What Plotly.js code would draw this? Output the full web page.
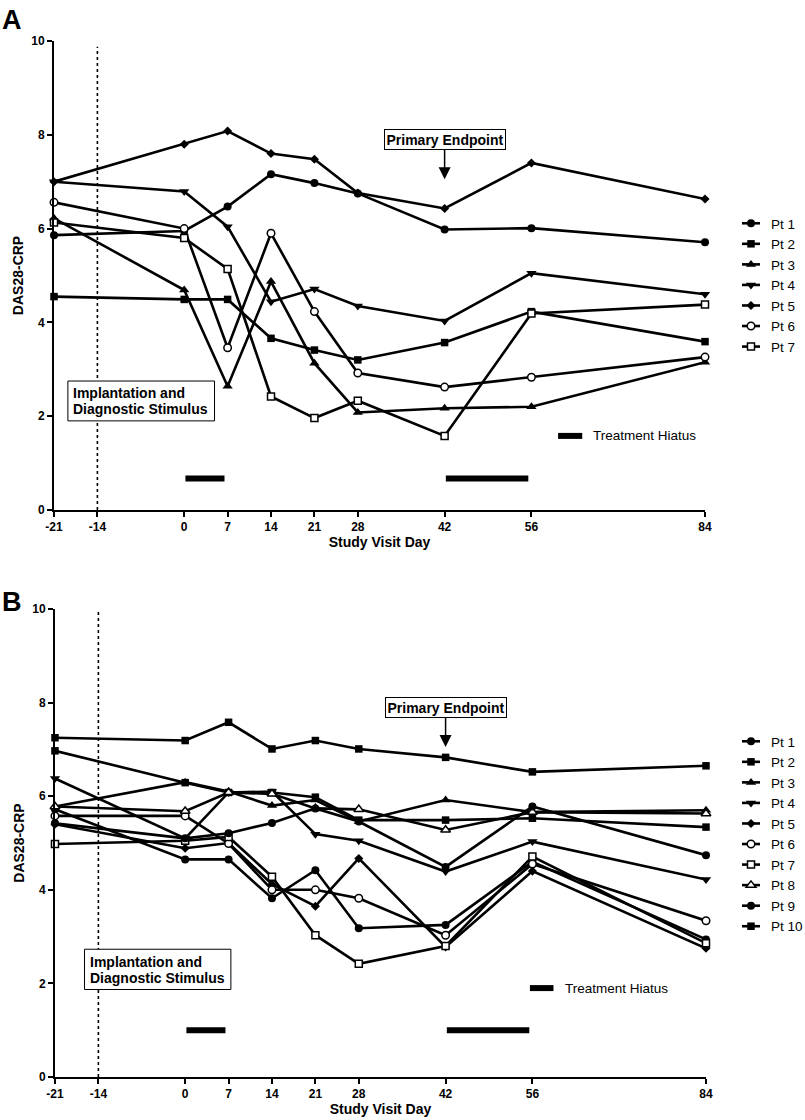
<!DOCTYPE html>
<html>
<head>
<meta charset="utf-8">
<script src="https://cdn.plot.ly/plotly-3.0.1.min.js"></script>
<style>
html, body { margin: 0; padding: 0; background: #ffffff; }
#chart { width: 805px; height: 1120px; }
</style>
</head>
<body>
<div id="chart"></div>
<script>
// ---------- data ----------
const days = [-21, 0, 7, 14, 21, 28, 42, 56, 84];
const xTickVals = [-21, -14, 0, 7, 14, 21, 28, 42, 56, 84];
const yTickVals = [0, 2, 4, 6, 8, 10];
const implantDay = -14;
const primaryEndpointDay = 42;
const hiatusStart = [0, 42];
const hiatusEnd = [7, 56];

const namesA = ['Pt 1', 'Pt 2', 'Pt 3', 'Pt 4', 'Pt 5', 'Pt 6', 'Pt 7'];
const pt1A = [5.86, 5.95, 6.47, 7.16, 6.97, 6.75, 5.98, 6.01, 5.71];
const pt2A = [4.55, 4.49, 4.49, 3.66, 3.41, 3.20, 3.57, 4.23, 3.59];
const pt3A = [6.22, 4.69, 2.64, 4.87, 3.13, 2.08, 2.17, 2.20, 3.15];
const pt4A = [7.00, 6.79, 6.04, 4.44, 4.71, 4.35, 4.03, 5.05, 4.60];
const pt5A = [7.00, 7.80, 8.08, 7.60, 7.48, 6.76, 6.43, 7.40, 6.63];
const pt6A = [6.56, 6.00, 3.46, 5.90, 4.23, 2.92, 2.62, 2.83, 3.26];
const pt7A = [6.13, 5.80, 5.14, 2.42, 1.96, 2.33, 1.58, 4.19, 4.38];

const namesB = ['Pt 1', 'Pt 2', 'Pt 3', 'Pt 4', 'Pt 5', 'Pt 6', 'Pt 7', 'Pt 8', 'Pt 9', 'Pt 10'];
const pt1B = [5.72, 4.65, 4.65, 3.82, 4.42, 3.18, 3.25, 4.60, 2.94];
const pt2B = [6.97, 6.29, 6.08, 6.08, 5.98, 5.49, 5.49, 5.53, 5.34];
const pt3B = [5.78, 6.30, 6.10, 5.80, 5.92, 5.46, 5.92, 5.66, 5.70];
const pt4B = [6.38, 5.10, 6.08, 6.10, 5.19, 5.05, 4.39, 5.03, 4.22];
const pt5B = [5.40, 4.89, 5.00, 4.12, 3.65, 4.67, 2.78, 4.40, 2.75];
const pt6B = [5.58, 5.58, 4.99, 4.00, 4.00, 3.82, 3.03, 4.55, 3.34];
const pt7B = [4.98, 5.05, 5.13, 4.28, 3.03, 2.42, 2.80, 4.71, 2.86];
const pt8B = [5.78, 5.68, 6.08, 6.05, 5.74, 5.72, 5.28, 5.66, 5.63];
const pt9B = [5.42, 5.10, 5.21, 5.43, 5.74, 5.46, 4.49, 5.78, 4.74];
const pt10B = [7.25, 7.19, 7.58, 7.01, 7.19, 7.01, 6.83, 6.52, 6.65];

// ---------- styles ----------
const FONT = '"Liberation Sans", Arial, Helvetica, sans-serif';
const BLACK = '#000000';
const M = {
  fCircle:  { symbol: 'circle',        size: 8,   color: BLACK,  lw: 0 },
  fSquare:  { symbol: 'square',        size: 7.5, color: BLACK,  lw: 0 },
  fTriUp:   { symbol: 'triangle-up',   size: 9,   color: BLACK,  lw: 0 },
  fTriDown: { symbol: 'triangle-down', size: 9,   color: BLACK,  lw: 0 },
  diamond:  { symbol: 'diamond',       size: 7,   color: BLACK,  lw: 0 },
  oCircle:  { symbol: 'circle',        size: 7.5, color: '#fff', lw: 1.5 },
  oSquare:  { symbol: 'square',        size: 7,   color: '#fff', lw: 1.5 },
  oTriUp:   { symbol: 'triangle-up',   size: 8.5, color: '#fff', lw: 1.5 }
};
const stylesA = [M.fCircle, M.fSquare, M.fTriUp, M.fTriDown, M.diamond, M.oCircle, M.oSquare];
const stylesB = [M.fCircle, M.fSquare, M.fTriUp, M.fTriDown, M.diamond, M.oCircle, M.oSquare, M.oTriUp, M.fCircle, M.fSquare];

function trace(name, y, st, xa, ya, lg) {
  return {
    type: 'scatter', mode: 'lines+markers', x: days, y: y, name: name,
    xaxis: xa, yaxis: ya, legend: lg, cliponaxis: false,
    line: { color: BLACK, width: 2.6 },
    marker: { symbol: st.symbol, size: st.size, color: st.color, line: { color: BLACK, width: st.lw } },
    hoverinfo: 'skip'
  };
}

const seriesA = [pt1A, pt2A, pt3A, pt4A, pt5A, pt6A, pt7A];
const seriesB = [pt1B, pt2B, pt3B, pt4B, pt5B, pt6B, pt7B, pt8B, pt9B, pt10B];
const data = [];
seriesA.forEach((s, i) => data.push(trace(namesA[i], s, stylesA[i], 'x', 'y', 'legend')));
seriesB.forEach((s, i) => data.push(trace(namesB[i], s, stylesB[i], 'x2', 'y2', 'legend2')));

// ---------- axes ----------
const tickFont = { family: FONT, size: 12, color: BLACK, weight: 'bold' };
const titleFont = { family: FONT, size: 14, color: BLACK, weight: 'bold' };
function xAxis(dom, anchor) {
  return {
    domain: dom, anchor: anchor, range: [-21, 84], tickmode: 'array', tickvals: xTickVals,
    ticktext: xTickVals.map(String),
    showline: true, linewidth: 2, linecolor: BLACK, ticks: 'outside', ticklen: 5, tickwidth: 2,
    tickcolor: BLACK, showgrid: false, zeroline: false, tickfont: tickFont, automargin: false,
    fixedrange: true, title: { text: 'Study Visit Day', font: titleFont, standoff: 0 }
  };
}
function yAxis(dom, anchor) {
  return {
    domain: dom, anchor: anchor, range: [0, 10], tickmode: 'array', tickvals: yTickVals,
    showline: true, linewidth: 2, linecolor: BLACK, ticks: 'outside', ticklen: 5, tickwidth: 2,
    tickcolor: BLACK, showgrid: false, zeroline: false, tickfont: tickFont, automargin: false,
    fixedrange: true, title: { text: 'DAS28-CRP', font: titleFont, standoff: 4 }
  };
}

// ---------- shapes ----------
const shapes = [];
function panelShapes(xr, yr, dotTop, barY, legBar, box) {
  shapes.push({ type: 'line', xref: xr, yref: yr, x0: implantDay, x1: implantDay, y0: 0, y1: dotTop,
    line: { color: BLACK, width: 1.6, dash: 'dot' } });
  hiatusStart.forEach((s, i) => {
    shapes.push({ type: 'line', xref: xr, yref: yr, x0: s + 0.2, x1: hiatusEnd[i] - 0.5, y0: barY, y1: barY,
      line: { color: BLACK, width: 6 } });
  });
  shapes.push({ type: 'line', xref: xr, yref: yr, x0: legBar[0], x1: legBar[1], y0: legBar[2], y1: legBar[2],
    line: { color: BLACK, width: 6 } });
  // box around the implantation note
  shapes.push({ type: 'rect', xref: xr, yref: yr, x0: box[0], x1: box[1], y0: box[2], y1: box[3],
    line: { color: BLACK, width: 1 }, fillcolor: '#ffffff', layer: 'above' });
}
panelShapes('x', 'y', 9.88, 0.67, [60.3, 64.2, 1.58], [-18.76, 4.89, 1.90, 2.75]);
panelShapes('x2', 'y2', 10.05, 1.0, [55.6, 59.4, 1.9], [-16.24, 7.37, 1.87, 2.73]);

// ---------- annotations ----------
const boxFont = { family: FONT, size: 14, color: BLACK, weight: 'bold' };
const annotations = [];
function panelAnn(xr, yr, implX, implY1, implY2, hiatusXY) {
  annotations.push({ xref: xr, yref: yr, x: implX, y: implY1, text: 'Implantation and',
    showarrow: false, xanchor: 'left', yanchor: 'middle', font: boxFont });
  annotations.push({ xref: xr, yref: yr, x: implX, y: implY2, text: 'Diagnostic Stimulus',
    showarrow: false, xanchor: 'left', yanchor: 'middle', font: boxFont });
  annotations.push({ xref: xr, yref: yr, x: primaryEndpointDay, y: 7.05, text: 'Primary Endpoint',
    showarrow: true, ax: 0, ay: -40, arrowhead: 2, arrowsize: 1.6, arrowwidth: 1.5, arrowcolor: BLACK,
    font: boxFont, bordercolor: BLACK, borderwidth: 1, borderpad: 1.5, bgcolor: '#ffffff' });
  annotations.push({ xref: xr, yref: yr, x: hiatusXY[0], y: hiatusXY[1], text: 'Treatment Hiatus',
    showarrow: false, xanchor: 'left', yanchor: 'middle', font: { family: FONT, size: 13.5, color: BLACK } });
}
panelAnn('x', 'y', -18.2, 2.50, 2.15, [65.6, 1.58]);
panelAnn('x2', 'y2', -15.7, 2.46, 2.11, [61.0, 1.9]);
// panel letters (paper coords relative to plot area: l=54, t=41, width 652, height 1036)
annotations.push({ xref: 'paper', yref: 'paper', x: (12 - 54) / 652, y: (1077 - 20) / 1036, text: 'A',
  showarrow: false, xanchor: 'center', yanchor: 'middle', font: { family: FONT, size: 27, color: BLACK, weight: 'bold' } });
annotations.push({ xref: 'paper', yref: 'paper', x: (12 - 54) / 652, y: (1077 - 602) / 1036, text: 'B',
  showarrow: false, xanchor: 'center', yanchor: 'middle', font: { family: FONT, size: 27, color: BLACK, weight: 'bold' } });

const legendBase = {
  xref: 'container', yref: 'container', xanchor: 'left', yanchor: 'top',
  font: { family: FONT, size: 13.5, color: BLACK }, bgcolor: 'rgba(0,0,0,0)', borderwidth: 0,
  tracegroupgap: 0, traceorder: 'normal'
};

const layout = {
  width: 805, height: 1120,
  margin: { l: 54, r: 99, t: 41, b: 43, pad: 0 },
  paper_bgcolor: '#ffffff', plot_bgcolor: '#ffffff',
  font: { family: FONT, color: BLACK },
  showlegend: true,
  xaxis: xAxis([0, 0.9985], 'y'),
  yaxis: yAxis([0.5473, 1], 'x'),
  xaxis2: xAxis([0.0015, 1], 'y2'),
  yaxis2: yAxis([0, 0.4517], 'x2'),
  legend: Object.assign({}, legendBase, { x: 731 / 805, y: 1 - 208 / 1120 }),
  legend2: Object.assign({}, legendBase, { x: 731 / 805, y: 1 - 726 / 1120 }),
  shapes: shapes,
  annotations: annotations
};

function shortenLegendLines() {
  // shorten the legend line samples so they sit tight around the marker, as in the original
  document.querySelectorAll('#chart path').forEach(function (p) {
    const d = p.getAttribute('d') || '';
    if (/^M5,0h30$/.test(d.replace(/\s/g, ''))) p.setAttribute('d', 'M11,0h18');
  });
}

Plotly.newPlot('chart', data, layout, { displayModeBar: false, staticPlot: true }).then(function (gd) {
  shortenLegendLines();
  gd.on && gd.on('plotly_afterplot', shortenLegendLines);
  setTimeout(shortenLegendLines, 50);
});
</script>
</body>
</html>
